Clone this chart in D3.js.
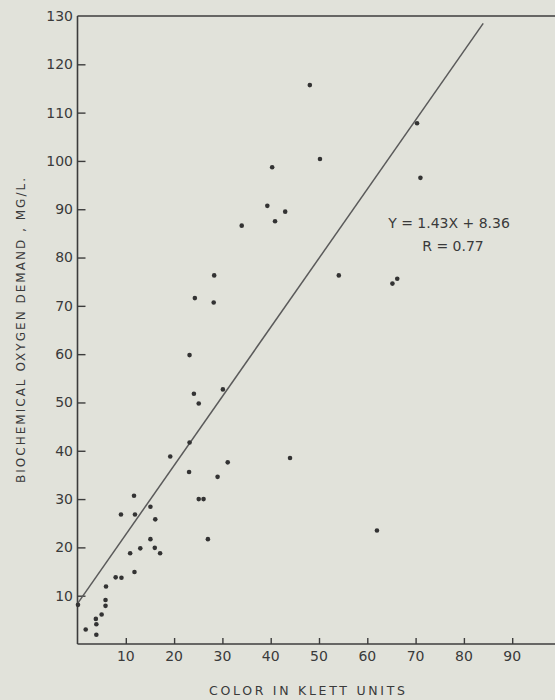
<!DOCTYPE html>
<html>
<head>
<meta charset="utf-8">
<script src="https://cdn.jsdelivr.net/npm/d3@7"></script>
<style>
  html, body { margin: 0; padding: 0; background: #e1e2da; }
  svg { display: block; }
  text { font-family: "DejaVu Sans", sans-serif; fill: #3a3a3a; }
</style>
</head>
<body>
<div id="wrapper"></div>
<script>
// data: color (Klett units) vs BOD (mg/L)
const colorKlett = [
  0.1, 1.7, 3.9, 3.9, 3.8, 5.0, 5.8, 5.8, 5.9, 7.9, 9.1, 11.8,
  10.9, 13.0, 9.0, 11.9, 11.7, 15.1, 16.1, 15.1, 16.0, 17.1,
  19.2, 23.1, 23.2, 29.0, 31.1, 25.1, 26.1, 27.0, 44.0, 62.0,
  24.1, 25.1, 30.1, 23.2, 24.3, 28.2, 28.3, 54.1, 65.2, 66.2,
  34.0, 40.9, 43.0, 39.3, 40.3, 50.2, 48.1, 70.3, 71.0
]
const bodMgL = [
  8.1, 3.0, 1.9, 4.1, 5.2, 6.1, 7.9, 9.1, 11.9, 13.8, 13.7, 14.9,
  18.8, 19.8, 26.8, 26.8, 30.7, 28.4, 25.8, 21.7, 19.9, 18.8,
  38.8, 35.6, 41.7, 34.6, 37.6, 30.0, 30.0, 21.7, 38.5, 23.5,
  51.8, 49.8, 52.7, 59.8, 71.6, 70.7, 76.3, 76.3, 74.6, 75.6,
  86.6, 87.5, 89.5, 90.7, 98.7, 100.4, 115.7, 107.8, 96.5
]
const xTicks = [10, 20, 30, 40, 50, 60, 70, 80, 90]
const yTicks = [10, 20, 30, 40, 50, 60, 70, 80, 90, 100, 110, 120]
const fitSlope = 1.43
const fitIntercept = 8.36
const fitRange = [0, 84]

const dataset = colorKlett.map((x, i) => ({ x: x, y: bodMgL[i] }))

const dimensions = {
  width: 555,
  height: 700,
  margin: { top: 16, left: 77.5 }
}

const wrapper = d3.select("#wrapper")
  .append("svg")
    .attr("width", dimensions.width)
    .attr("height", dimensions.height)

const xScale = d3.scaleLinear()
  .domain([0, 100])
  .range([77.5, 560.5])

const yScale = d3.scaleLinear()
  .domain([0, 130])
  .range([644, 16])

const ink = "#3c3c3c"

// frame: left, bottom, top
const frame = wrapper.append("g")
  .attr("stroke", ink)
  .attr("stroke-width", 1.6)
  .attr("fill", "none")
frame.append("line")
  .attr("x1", xScale(0)).attr("x2", xScale(0))
  .attr("y1", yScale(130)).attr("y2", yScale(0))
frame.append("line")
  .attr("x1", xScale(0)).attr("x2", dimensions.width)
  .attr("y1", yScale(0)).attr("y2", yScale(0))
frame.append("line")
  .attr("x1", xScale(0)).attr("x2", dimensions.width)
  .attr("y1", yScale(130)).attr("y2", yScale(130))

// axes, ticks pointing into the plot
const xAxisGenerator = d3.axisTop(xScale)
  .tickValues(xTicks)
  .tickSize(6)
  .tickFormat("")
wrapper.append("g")
  .attr("transform", `translate(0, ${yScale(0)})`)
  .call(xAxisGenerator)
  .call(g => g.select(".domain").remove())
  .call(g => g.selectAll("line").attr("stroke", ink).attr("stroke-width", 1.4))

const yAxisGenerator = d3.axisRight(yScale)
  .tickValues(yTicks)
  .tickSize(8)
  .tickFormat("")
wrapper.append("g")
  .attr("transform", `translate(${xScale(0)}, 0)`)
  .call(yAxisGenerator)
  .call(g => g.select(".domain").remove())
  .call(g => g.selectAll("line").attr("stroke", ink).attr("stroke-width", 1.4))

// tick labels outside the frame
wrapper.append("g").selectAll("text")
  .data(xTicks)
  .join("text")
    .attr("x", d => xScale(d))
    .attr("y", 661)
    .attr("text-anchor", "middle")
    .style("font-size", "14px")
    .text(d => d)

wrapper.append("g").selectAll("text")
  .data(yTicks.concat([130]))
  .join("text")
    .attr("x", 73)
    .attr("y", d => yScale(d))
    .attr("dy", "0.35em")
    .attr("text-anchor", "end")
    .style("font-size", "14px")
    .text(d => d)

// regression line
wrapper.append("line")
  .attr("x1", xScale(fitRange[0]))
  .attr("y1", yScale(fitSlope * fitRange[0] + fitIntercept))
  .attr("x2", xScale(fitRange[1]))
  .attr("y2", yScale(fitSlope * fitRange[1] + fitIntercept))
  .attr("stroke", "#5a5a5a")
  .attr("stroke-width", 1.5)

// points
wrapper.append("g").selectAll("circle")
  .data(dataset)
  .join("circle")
    .attr("cx", d => xScale(d.x))
    .attr("cy", d => yScale(d.y))
    .attr("r", 2.3)
    .attr("fill", "#333")

// equation
wrapper.append("text")
  .attr("x", 449)
  .attr("y", 228)
  .attr("text-anchor", "middle")
  .style("font-size", "14px")
  .text("Y = 1.43X + 8.36")
wrapper.append("text")
  .attr("x", 453)
  .attr("y", 251)
  .attr("text-anchor", "middle")
  .style("font-size", "14px")
  .text("R = 0.77")

// axis titles
wrapper.append("text")
  .attr("x", 209)
  .attr("y", 695)
  .attr("textLength", 196)
  .attr("lengthAdjust", "spacing")
  .style("font-size", "12.5px")
  .text("COLOR IN KLETT UNITS")

wrapper.append("text")
  .attr("transform", "translate(25, 483) rotate(-90)")
  .attr("x", 0)
  .attr("y", 0)
  .attr("textLength", 305)
  .attr("lengthAdjust", "spacing")
  .style("font-size", "12px")
  .text("BIOCHEMICAL  OXYGEN  DEMAND , MG/L.")
</script>
</body>
</html>
